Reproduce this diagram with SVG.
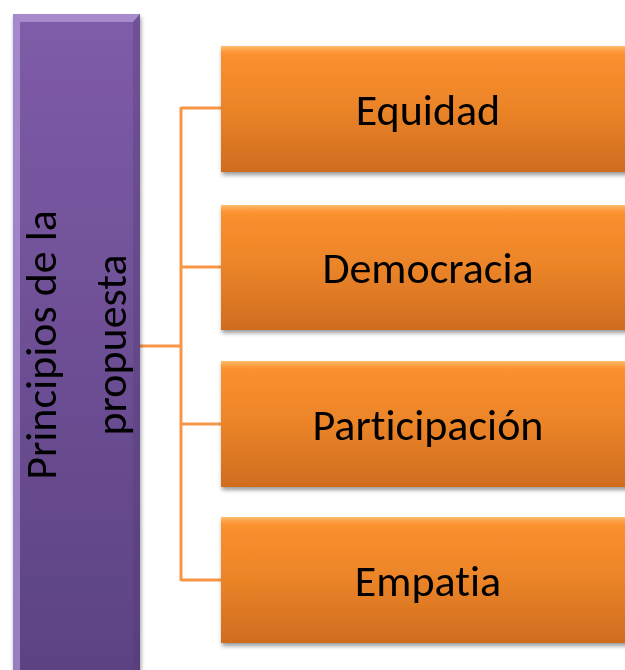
<svg xmlns="http://www.w3.org/2000/svg" width="625" height="670" viewBox="0 0 625 670">
<defs>
<linearGradient id="gP" x1="0" y1="0" x2="0" y2="1">
<stop offset="0" stop-color="#7F5CA8"/>
<stop offset="1" stop-color="#5C4282"/>
</linearGradient>
<linearGradient id="gO" x1="0" y1="0" x2="0" y2="1">
<stop offset="0" stop-color="#FC9230"/>
<stop offset="0.5" stop-color="#EB8428"/>
<stop offset="1" stop-color="#CF6C1F"/>
</linearGradient>
<linearGradient id="gOtop" x1="0" y1="0" x2="0" y2="1">
<stop offset="0" stop-color="#FFC070"/>
<stop offset="1" stop-color="#FC9230" stop-opacity="0"/>
</linearGradient>
<filter id="sh" x="-10%" y="-10%" width="120%" height="130%">
<feGaussianBlur in="SourceAlpha" stdDeviation="2"/>
<feOffset dx="1" dy="3"/>
<feComponentTransfer><feFuncA type="linear" slope="0.4"/></feComponentTransfer>
<feMerge><feMergeNode/><feMergeNode in="SourceGraphic"/></feMerge>
</filter>
</defs>
<style>
.lbl{font-family:"Carlito","Liberation Sans",sans-serif;font-size:44px;fill:#000;text-anchor:middle;font-variant-ligatures:none;font-feature-settings:"liga" 0}
.con{stroke:#F79646;stroke-width:3;fill:none}
</style>
<g id="connectors">
<path class="con" d="M140 346 H182"/>
<path class="con" d="M181 107 V581"/>
<path class="con" d="M181 108 H222 M181 267 H222 M181 424 H222 M181 580 H222"/>
</g>
<g id="root" filter="url(#sh)">
<rect x="13" y="14" width="127" height="670" fill="url(#gP)"/>
<path d="M13 14 H140 L133 22 H20 Z" fill="#B8A0D8" opacity="0.7"/>
<path d="M13 14 L20 22 V670 H13 Z" fill="#C0A6E6" opacity="0.6"/>
<path d="M140 14 L133 22 V670 H140 Z" fill="#4E3870" opacity="0.3"/>
<text class="lbl" transform="translate(76 345) rotate(-90)"><tspan x="0" y="-20">Principios de la</tspan><tspan x="0" y="50">propuesta</tspan></text>
</g>
<g id="n1" filter="url(#sh)">
<rect x="221" y="46" width="410" height="126" fill="url(#gO)"/>
<rect x="221" y="46" width="410" height="10" fill="url(#gOtop)"/>
<text class="lbl" x="428" y="125">Equidad</text>
</g>
<g id="n2" filter="url(#sh)">
<rect x="221" y="205" width="410" height="125" fill="url(#gO)"/>
<rect x="221" y="205" width="410" height="10" fill="url(#gOtop)"/>
<text class="lbl" x="428" y="283">Democracia</text>
</g>
<g id="n3" filter="url(#sh)">
<rect x="221" y="361" width="410" height="126" fill="url(#gO)"/>
<rect x="221" y="361" width="410" height="10" fill="url(#gOtop)"/>
<text class="lbl" x="428" y="440">Participación</text>
</g>
<g id="n4" filter="url(#sh)">
<rect x="221" y="517" width="410" height="126" fill="url(#gO)"/>
<rect x="221" y="517" width="410" height="10" fill="url(#gOtop)"/>
<text class="lbl" x="428" y="596">Empatia</text>
</g>
</svg>
